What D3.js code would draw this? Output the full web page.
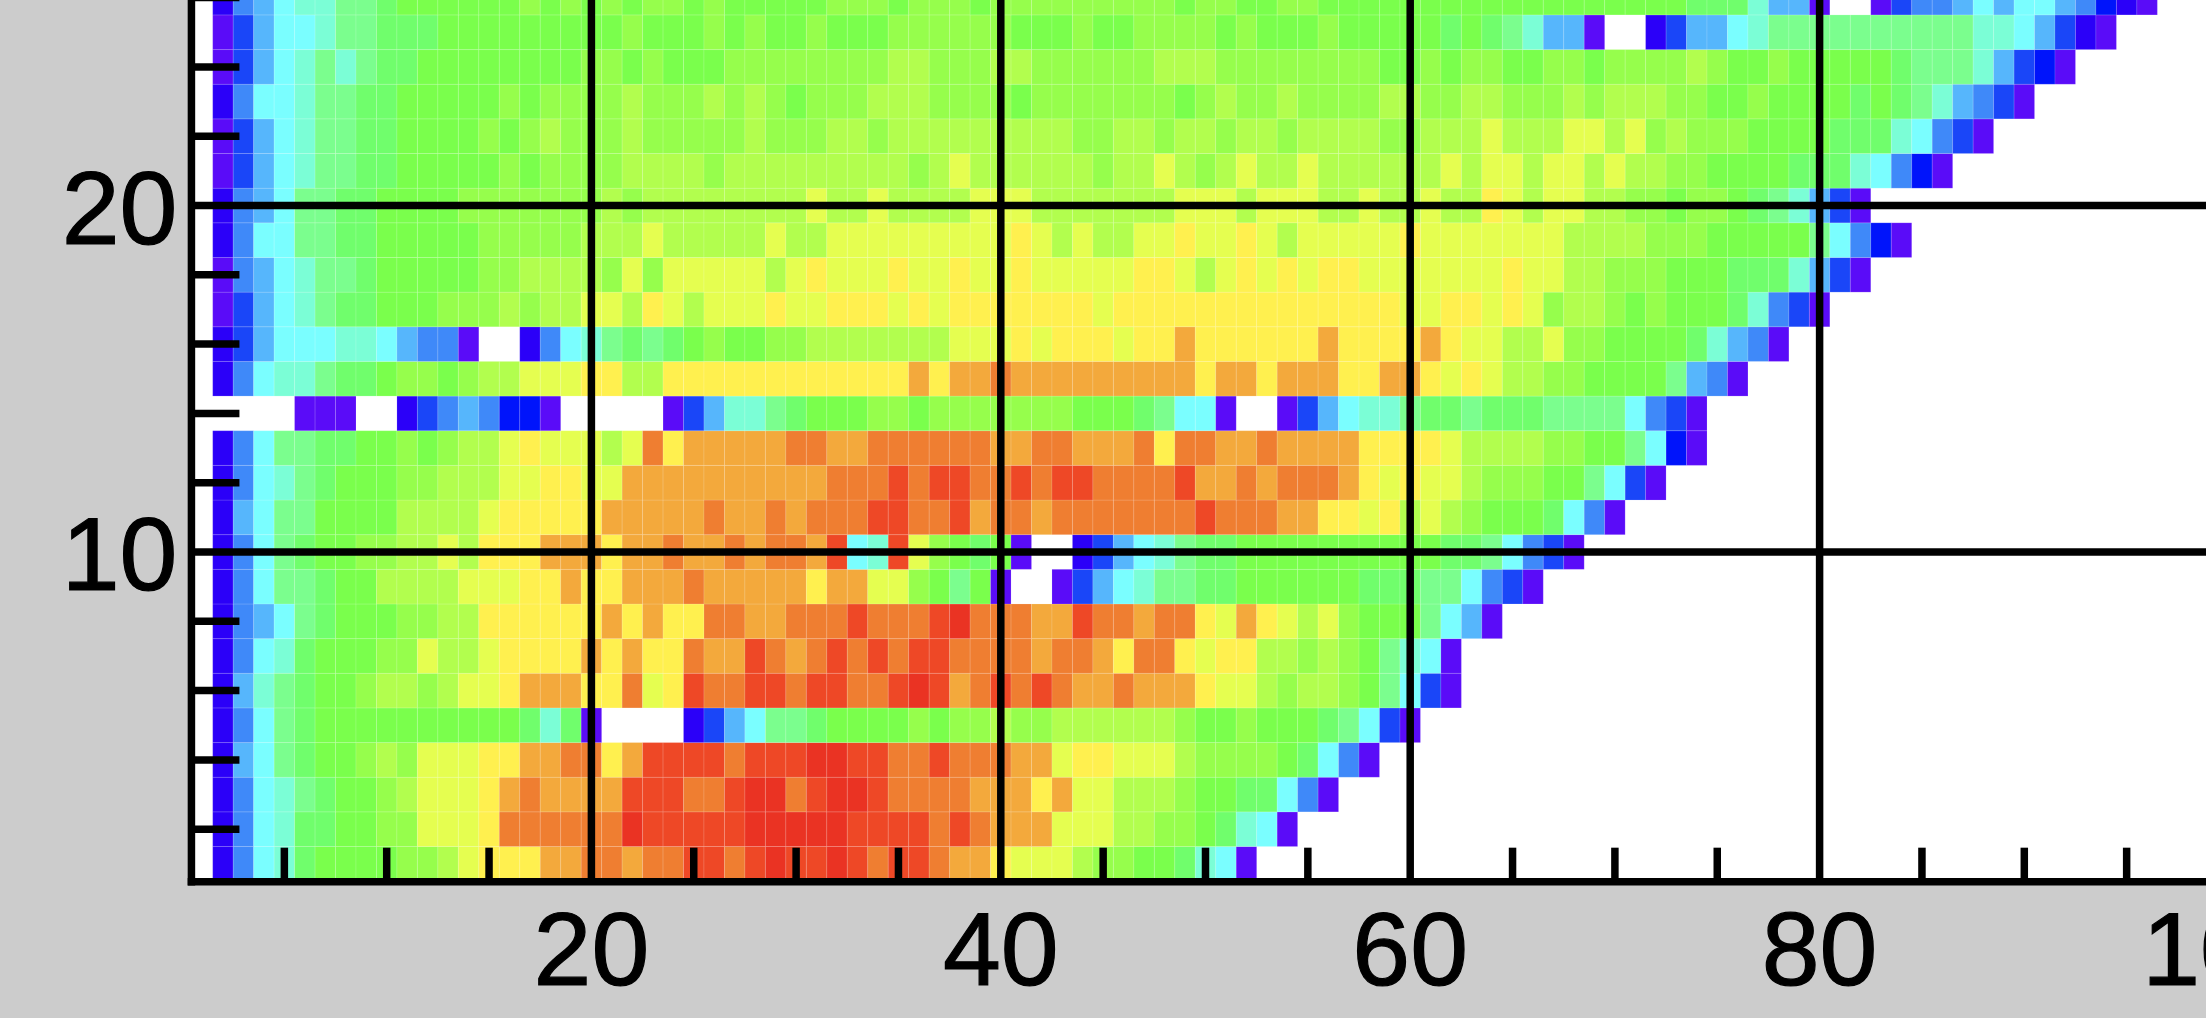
<!DOCTYPE html>
<html>
<head>
<meta charset="utf-8">
<script src="https://cdn.jsdelivr.net/npm/d3@7"></script>
<style>
html,body{margin:0;padding:0;background:#cccccc;overflow:hidden}
svg{display:block}
text{font-family:"Liberation Sans",Arial,sans-serif;fill:#000}
</style>
</head>
<body>
<svg id="chart" width="2206" height="1018"></svg>
<script>
// Colour-band level of every cell, column 1 upward, row by row
const row1  = [0,2,5,7,8,10,11,11,11,11,12,12,13,14,15,15,15,16,16,17,17,16,17,17, 18,18,17,18,19,18,18,19,18,17,18,18,17,16,16,15,14,14,14,13,12,12,11,11, 10,8,7,1];
const row2  = [0,2,5,7,8,10,10,11,11,12,12,14,14,14,15,17,17,17,17,17,17,19,18,18, 18,18,18,19,19,19,19,19,18,18,18,18,17,18,17,16,16,16,14,14,14,13,13,12, 12,11,10,8,7,1];
const row3  = [0,2,5,7,8,9,10,11,11,12,13,14,14,14,15,16,17,16,16,16,16,18,18,18, 17,17,18,19,19,17,18,19,19,18,17,17,17,17,16,16,16,15,16,14,14,13,13,13, 12,11,11,10,10,7,5,1];
const row4  = [0,2,6,7,9,10,11,11,12,13,12,14,14,14,15,15,16,16,17,17,15,16,18,18, 18,18,17,18,18,18,19,19,18,18,17,17,18,17,17,17,16,16,14,15,15,14,14,14, 13,12,12,12,12,11,10,7,5,1];
const row5  = [0,2,5,7,9,10,11,11,11,11,11,11,11,11,11,11,10,8,10,1,0,0,0,0, 2,4,6,7,9,9,10,11,11,11,11,12,11,12,12,13,12,12,13,13,13,13,13,13, 12,11,11,12,11,11,11,10,9,7,4,1];
const row6  = [0,2,6,8,9,10,11,11,12,13,13,12,13,14,14,15,16,16,16,15,15,17,14,15, 18,17,17,18,18,17,18,18,17,17,18,19,18,16,17,18,17,18,17,16,16,17,16,16, 16,15,14,14,13,12,13,13,12,11,9,7,4,1];
const row7  = [0,2,5,7,8,10,11,11,11,12,12,14,13,13,14,15,15,15,15,16,15,16,15,15, 17,16,16,18,17,16,17,18,17,18,17,18,18,17,17,17,17,16,17,17,16,15,17,17, 15,14,15,15,13,13,12,13,12,11,9,8,7,1];
const row8  = [0,2,5,6,7,9,10,11,11,11,12,12,13,13,15,15,15,15,15,15,16,15,16,15, 15,17,17,16,16,17,17,17,18,17,17,17,18,19,17,17,17,16,16,18,17,17,16,17, 17,15,14,16,15,14,13,14,12,11,11,11,9,7,6,1];
const row9  = [0,2,5,7,9,9,10,11,11,13,13,13,13,14,14,14,15,15,16,15,15,16,16,16, 17,16,16,16,16,16,15,16,16,14,14,12,11,9,11,1,0,0,1,4,6,7,8,9, 9,10,10,11,11,11,11,11,11,10,10,10,9,9,7,5,4,1];
const row10 = [0,2,5,7,9,10,11,11,12,12,13,13,14,13,15,15,15,16,16,16,15,16,16,17, 16,16,17,16,17,17,16,18,7,8,18,14,12,11,10,11,1,0,0,2,4,6,7,8, 9,10,10,11,11,11,11,11,11,11,11,11,11,10,10,9,7,5,4,1];
const row11 = [0,2,6,7,9,9,11,11,11,11,13,13,13,13,14,15,15,15,15,15,16,16,16,16, 16,17,16,16,17,16,17,17,17,18,18,17,17,18,16,17,17,16,17,17,17,17,17,17, 17,18,17,17,17,16,16,15,15,14,15,13,14,13,12,11,11,11,10,7,5,1];
const row12 = [0,2,5,7,8,9,10,11,11,11,12,12,13,13,13,14,14,15,15,14,14,16,16,16, 16,16,16,16,16,16,16,17,17,17,18,17,18,18,17,17,18,17,18,18,17,17,17,17, 18,16,16,17,16,17,17,17,16,15,14,15,14,14,13,12,12,12,11,11,9,7,4,1];
const row13 = [0,2,5,7,9,9,10,10,11,11,12,11,12,13,13,14,15,14,14,14,13,14,17,15, 16,16,16,16,16,17,17,16,16,17,17,17,17,17,17,16,16,17,17,16,16,16,17,15, 17,17,16,16,17,16,16,16,16,15,15,15,15,14,13,13,13,13,12,12,11,11,9,7,3,1];
const row14 = [0,0,0,0,0,1,1,1,0,0,2,4,5,6,5,3,3,1,0,0,0,0,0,1, 4,6,8,8,9,10,11,11,11,12,12,11,12,12,12,12,12,12,12,11,11,11,10,9, 7,7,1,0,0,1,4,6,7,8,8,9,10,10,9,10,10,10,9,9,9,9,7,5,4,1];
const row15 = [0,2,5,7,8,8,9,10,10,11,12,12,11,12,13,13,14,14,14,15,15,13,13,15, 15,15,15,15,15,15,15,15,15,15,15,16,15,16,16,17,16,16,16,16,16,16,16,16, 16,15,16,16,15,16,16,16,15,15,16,16,15,14,15,14,13,13,12,12,11,11,11,11,9,6,5,1];
const row16 = [0,2,4,6,7,7,7,8,8,7,6,5,5,1,0,0,2,5,7,8,9,10,9,10, 11,12,11,11,12,12,13,13,13,13,13,13,13,14,14,14,15,14,15,15,15,14,15,15, 16,15,15,15,15,15,15,16,15,15,15,15,16,15,14,14,13,13,14,12,12,11,11,11,11,10,8,6,5,1];
const row17 = [0,1,4,6,7,8,9,10,10,11,11,11,12,12,12,13,12,13,13,14,14,13,15,14, 13,14,14,14,15,14,14,15,15,15,14,15,14,15,15,15,15,15,15,15,14,15,15,15, 15,15,15,15,15,15,15,15,15,15,15,14,14,15,15,14,15,14,12,13,13,12,11,12,11,11,11,10,8,5,4,1];
const row18 = [0,1,5,6,7,8,9,9,10,11,11,11,11,11,12,12,13,13,13,13,12,14,12,14, 14,14,14,14,13,14,15,14,14,14,15,14,14,15,14,14,15,14,14,14,14,14,15,15, 14,13,14,15,14,15,14,15,15,14,14,14,14,14,14,14,15,14,14,13,13,12,12,12,11,11,11,10,10,10,8,6,4,1];
const row19 = [0,2,5,7,7,9,9,10,10,11,11,11,11,11,12,12,12,12,12,13,13,13,14,13, 13,13,13,13,14,13,13,14,14,14,14,14,14,14,14,14,15,14,13,14,13,13,14,14, 15,14,14,15,14,13,14,14,14,14,14,15,14,14,14,14,14,14,14,13,13,13,13,12,12,12,11,11,11,11,11,9,7,5,3,1];
const row20 = [0,2,5,6,7,9,9,10,10,11,11,11,11,12,12,12,12,12,12,12,13,12,13,13, 13,13,13,13,13,13,14,13,13,14,13,13,13,13,14,14,14,13,13,13,13,13,13,13, 14,14,14,13,14,14,14,13,13,14,13,13,14,13,13,15,14,13,14,14,13,13,12,12,11,12,12,11,10,9,8,6,4,1];
const row21 = [0,1,4,6,7,8,9,9,10,10,11,11,11,11,11,12,11,12,12,12,12,13,13,13, 13,12,13,13,13,13,13,13,13,13,13,12,13,14,13,13,13,13,13,13,12,13,13,14, 13,12,13,14,13,13,14,13,13,13,13,13,13,14,13,14,14,13,14,14,13,14,13,13,12,12,11,11,11,11,10,10,10,8,7,5,3,1];
const row22 = [0,1,4,6,7,8,9,9,10,10,11,11,11,11,12,11,12,13,12,12,12,13,12,12, 12,12,12,13,12,12,12,13,13,12,13,13,13,13,13,13,13,13,13,12,12,13,13,12, 13,13,12,13,13,12,13,13,13,13,12,12,13,13,13,14,13,13,13,14,14,13,14,12,13,12,12,12,11,11,11,11,10,10,10,8,7,5,4,1];
const row23 = [0,2,5,7,7,8,9,9,10,10,11,11,11,11,11,12,11,12,12,12,12,13,12,12, 12,13,12,13,12,11,12,12,12,13,13,13,12,12,12,12,11,12,12,12,12,12,12,12, 11,12,13,12,12,13,12,12,12,12,13,13,12,12,13,13,12,12,12,13,12,13,13,13,12,12,11,11,12,11,11,11,11,10,11,10,9,8,6,5,4,1];
const row24 = [0,1,4,6,7,8,9,8,9,10,10,11,11,11,11,11,11,11,11,12,12,11,12,11, 11,11,12,12,12,12,12,12,12,12,13,13,12,12,12,13,13,12,12,12,12,12,12,13, 13,13,12,12,12,12,12,12,12,12,11,11,12,11,12,12,11,11,12,12,11,12,12,12,12,13,12,11,11,12,11,11,11,11,11,10,9,9,9,8,6,4,3,1];
const row25 = [0,1,4,6,7,7,8,9,9,10,10,10,11,11,11,11,11,11,11,11,11,12,11,11, 11,12,11,12,11,11,12,11,11,11,12,12,12,12,12,12,11,11,11,12,11,11,12,12, 12,12,11,12,11,11,11,12,11,11,11,11,11,10,11,10,9,8,6,6,1,0,0,2,4,6,6,7,8,9,9,9,9,9,9,9,9,9,9,8,8,7,6,4,2,1];
const row26 = [0,2,5,6,7,8,8,9,9,10,11,11,11,11,11,11,12,11,12,11,12,11,12,12, 11,12,11,11,11,11,11,12,12,12,11,12,12,12,11,12,12,12,12,12,12,12,12,12, 11,12,12,11,11,12,12,11,11,11,11,11,11,11,11,11,11,11,11,11,11,11,11,11,11,10,10,10,8,6,6,1,0,0,1,4,5,5,6,7,6,7,7,6,5,3,2,1];

const rows = [row1,row2,row3,row4,row5,row6,row7,row8,row9,row10,row11,row12,row13,row14,row15,row16,row17,row18,row19,row20,row21,row22,row23,row24,row25,row26];

const levelColors = ["#ffffff","#5a0cf8","#2b00f8","#0014fb","#1a46f8","#3f89f9","#56b6fc","#7afeff","#7bfed6","#7bfe8e","#70fe6c","#7aff4c","#96fe4c","#b2fe4e","#e5fe50","#fff04f","#f3a93c","#ef7e31","#ee4826","#ea3323"];

const xMajorTicks = [20,40,60,80,100];
const xMinorTicks = [5,10,15,25,30,35,45,50,55,65,70,75,85,90,95];
const yMajorTicks = [10,20];
const yMinorTicks = [2,4,6,8,12,14,16,18,22,24,26];

const W = 2206, H = 1018;
const x = d3.scaleLinear().domain([0,100]).range([182,2229]);
const y = d3.scaleLinear().domain([0,26]).range([898.5,-2.4]);
const color = d3.scaleOrdinal().domain(d3.range(levelColors.length)).range(levelColors);

const svg = d3.select("#chart");
svg.append("rect").attr("width",W).attr("height",H).attr("fill","#cccccc");

const left = x(0.5), bottom = y(0.5);
svg.append("rect").attr("x",left).attr("y",0).attr("width",W-left).attr("height",bottom).attr("fill","#ffffff");

const cells = rows.flatMap((r,ri)=>r.map((v,ci)=>({col:ci+1,row:ri+1,v}))).filter(d=>d.v>0);
svg.append("g").selectAll("rect").data(cells).join("rect")
  .attr("x",d=>x(d.col-0.5))
  .attr("y",d=>y(d.row+0.5))
  .attr("width",d=>x(d.col+0.5)-x(d.col-0.5))
  .attr("height",d=>y(d.row-0.5)-y(d.row+0.5))
  .attr("fill",d=>color(d.v))
  .attr("stroke","rgba(255,255,255,0.13)")
  .attr("stroke-width",1);

const axisY = bottom + 0.5, axisX = left - 0.8;
const fontSize = 104, weight = 7.5;

function style(g){
  g.select(".domain").remove();
  g.selectAll("line").attr("stroke","#000").attr("stroke-width",weight);
}
function label(g){
  g.selectAll("text").attr("dy",0).attr("font-size",fontSize)
    .attr("font-family",'"Liberation Sans"')
    .attr("stroke","#000").attr("stroke-width",1.2);
}

// x axis: full-height major lines with labels, short minor ticks
const gx = svg.append("g").attr("transform",`translate(0,${axisY})`);
gx.append("g").call(d3.axisBottom(x).tickValues(xMinorTicks).tickSize(-34).tickFormat("").offset(0)).call(style);
gx.append("g").call(d3.axisBottom(x).tickValues(xMajorTicks).tickSize(-axisY).tickFormat(d3.format("d")).offset(0)).call(style).call(label)
  .call(g=>g.selectAll("text").attr("y",103).attr("text-anchor","middle"));

// y axis
const gy = svg.append("g").attr("transform",`translate(${axisX},0)`);
gy.append("g").call(d3.axisRight(y).tickValues(yMinorTicks).tickSize(48).tickFormat("").offset(0)).call(style);
gy.append("g").call(d3.axisRight(y).tickValues(yMajorTicks).tickSize(W-axisX).tickFormat(d3.format("d")).offset(0)).call(style).call(label)
  .call(g=>g.selectAll("text").attr("x",-14).attr("y",38).attr("text-anchor","end"));

// axis lines
svg.append("line").attr("x1",axisX).attr("x2",axisX).attr("y1",0).attr("y2",axisY+3.75).attr("stroke","#000").attr("stroke-width",weight);
svg.append("line").attr("x1",axisX-3.75).attr("x2",W).attr("y1",axisY).attr("y2",axisY).attr("stroke","#000").attr("stroke-width",weight);
</script>
</body>
</html>
